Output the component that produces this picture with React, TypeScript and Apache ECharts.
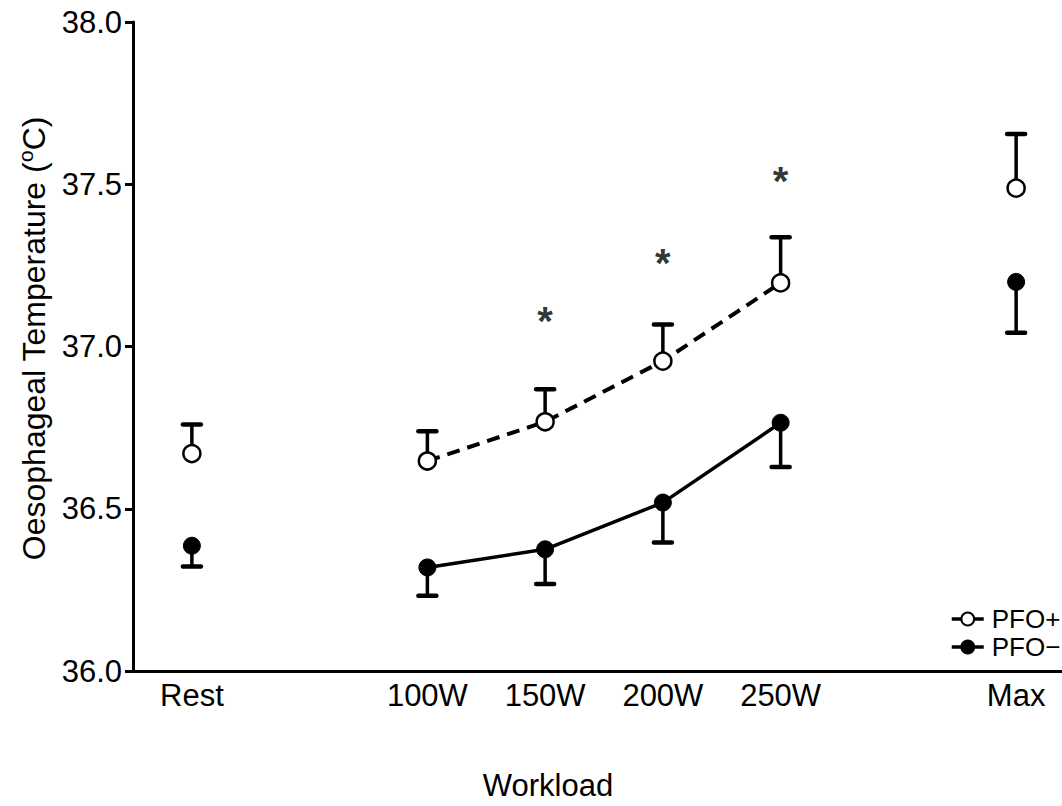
import React, { useEffect, useRef } from "react";
import * as echarts from "echarts";

const categories = ["Rest", "", "100W", "150W", "200W", "250W", "", "Max"];
const pfoPlusMean: (number | string)[] = [36.67, "-", 36.647, 36.768, 36.955, 37.196, "-", 37.488];
const pfoPlusUpper: (number | string)[] = [36.76, "-", 36.739, 36.868, 37.068, 37.337, "-", 37.655];
const pfoMinusMean: (number | string)[] = [36.386, "-", 36.319, 36.375, 36.519, 36.765, "-", 37.199];
const pfoMinusLower: (number | string)[] = [36.322, "-", 36.232, 36.268, 36.396, 36.629, "-", 37.042];
const significance: (number | string)[] = ["-", "-", "-", 37.08, 37.258, 37.511, "-", "-"];
const yTicks = [36.0, 36.5, 37.0, 37.5, 38.0];

const FONT = "'Liberation Sans', Arial, Helvetica, sans-serif";

function errorData(mean: (number | string)[], end: (number | string)[]) {
  const out: number[][] = [];
  mean.forEach((m, i) => {
    if (m !== "-" && end[i] !== "-") out.push([i, m as number, end[i] as number]);
  });
  return out;
}

function renderError(params: any, api: any) {
  const p0 = api.coord([api.value(0), api.value(1)]);
  const p1 = api.coord([api.value(0), api.value(2)]);
  return {
    type: "group",
    children: [
      {
        type: "line",
        shape: { x1: p0[0], y1: p0[1], x2: p1[0], y2: p1[1] },
        style: { stroke: "#000", lineWidth: 3.5 },
      },
      {
        type: "line",
        shape: { x1: p1[0] - 9, y1: p1[1], x2: p1[0] + 9, y2: p1[1] },
        style: { stroke: "#000", lineWidth: 4.5, lineCap: "round" },
      },
    ],
  };
}

export default function App() {
  const ref = useRef<HTMLDivElement>(null);
  useEffect(() => {
    document.documentElement.style.overflow = "hidden";
    document.body.style.overflow = "hidden";
    if (!ref.current) return;
    const chart = echarts.init(ref.current, null, { renderer: "svg" });
    chart.setOption({
      animation: false,
      textStyle: { fontFamily: FONT },
      grid: { left: 133, top: 22, width: 942, height: 650, containLabel: false },
      legend: {
        data: ["PFO+", "PFO\u2212"],
        orient: "vertical",
        left: 945,
        top: 601,
        itemWidth: 32,
        itemHeight: 16,
        itemGap: 2,
        lineStyle: { type: "solid", width: 3.5 },
        textStyle: { fontSize: 26, lineHeight: 25, color: "#000", fontFamily: FONT, padding: [0, 0, 0, 3] },
      },
      xAxis: {
        type: "category",
        data: categories,
        boundaryGap: true,
        name: "Workload",
        nameLocation: "middle",
        nameGap: 99,
        nameTextStyle: { fontSize: 31, color: "#000", fontFamily: FONT, padding: [0, 112, 0, 0] },
        axisLine: { lineStyle: { color: "#000", width: 3 } },
        axisTick: {
          alignWithLabel: true,
          length: 9,
          lineStyle: { color: "#000", width: 3 },
          interval: (i: number, v: string) => v !== "",
        },
        axisLabel: { interval: 0, fontSize: 31, color: "#000", margin: 9, fontFamily: FONT },
        splitLine: { show: false },
      },
      yAxis: {
        type: "value",
        min: yTicks[0],
        max: yTicks[yTicks.length - 1],
        interval: 0.5,
        name: "{n|Oesophageal Temperature (}{s|o}{n|C)}",
        nameLocation: "middle",
        nameGap: 80,
        nameTextStyle: {
          color: "#000",
          fontFamily: FONT,
          padding: [0, 0, 0, 16],
          rich: {
            n: { fontSize: 32, color: "#000", fontFamily: FONT },
            s: { fontSize: 21, color: "#000", fontFamily: FONT, padding: [0, 0, 17, 0] },
          },
        },
        axisLine: { show: true, lineStyle: { color: "#000", width: 3 } },
        axisTick: { show: true, length: 8, lineStyle: { color: "#000", width: 3 } },
        axisLabel: {
          fontSize: 31,
          color: "#000",
          margin: 11,
          fontFamily: FONT,
          formatter: (v: number) => v.toFixed(1),
        },
        splitLine: { show: false },
      },
      series: [
        {
          name: "errPlus",
          type: "custom",
          renderItem: renderError,
          data: errorData(pfoPlusMean, pfoPlusUpper),
          z: 1,
          silent: true,
        },
        {
          name: "errMinus",
          type: "custom",
          renderItem: renderError,
          data: errorData(pfoMinusMean, pfoMinusLower),
          z: 1,
          silent: true,
        },
        {
          name: "PFO+",
          type: "line",
          data: pfoPlusMean,
          symbol: "circle",
          symbolSize: 17,
          showAllSymbol: true,
          connectNulls: false,
          lineStyle: { color: "#000", width: 4, type: [13, 8] },
          itemStyle: { color: "#fff", borderColor: "#000", borderWidth: 2.5 },
          z: 3,
        },
        {
          name: "PFO\u2212",
          type: "line",
          data: pfoMinusMean,
          symbol: "circle",
          symbolSize: 17,
          showAllSymbol: true,
          connectNulls: false,
          lineStyle: { color: "#000", width: 3.5 },
          itemStyle: { color: "#000", borderColor: "#000", borderWidth: 1 },
          z: 3,
        },
        {
          name: "sig",
          type: "scatter",
          data: significance,
          symbol: "circle",
          symbolSize: 1,
          itemStyle: { color: "rgba(0,0,0,0)" },
          label: {
            show: true,
            formatter: "*",
            position: "inside",
            fontSize: 40,
            fontWeight: "bold",
            color: "#000",
            textBorderWidth: 0,
            textBorderColor: "transparent",
            fontFamily: FONT,
          },
          z: 4,
        },
      ],
    });
    return () => chart.dispose();
  }, []);
  return (
    <div
      ref={ref}
      style={{ position: "fixed", left: 0, top: 0, width: 1080, height: 806, background: "#fff" }}
    />
  );
}
